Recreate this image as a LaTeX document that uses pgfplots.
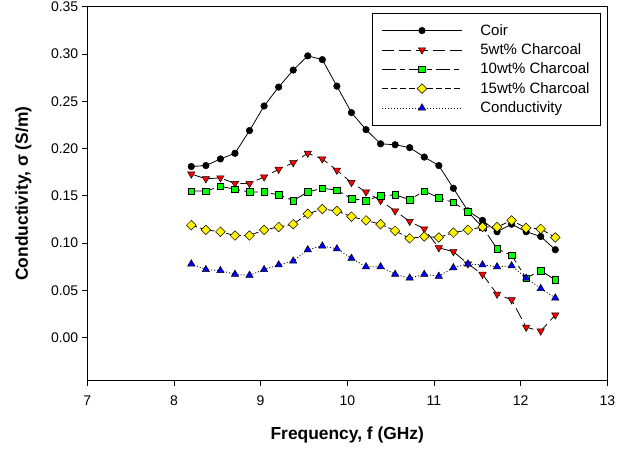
\documentclass[border=0pt]{standalone}
\usepackage{pgfplots}
\pgfplotsset{compat=1.18}
\usepackage{pgfplotstable}
\usepackage{fontspec}
\setmainfont{Liberation Sans}

\pgfplotstableread{
f      coir   c5     c10    c15    cond
8.200  0.181  0.173  0.155  0.119  0.078
8.368  0.182  0.168  0.155  0.114  0.072
8.536  0.189  0.169  0.160  0.112  0.071
8.704  0.195  0.163  0.157  0.108  0.067
8.872  0.219  0.163  0.154  0.108  0.066
9.040  0.245  0.170  0.154  0.114  0.072
9.208  0.265  0.178  0.151  0.117  0.077
9.376  0.283  0.185  0.145  0.120  0.081
9.544  0.298  0.195  0.154  0.131  0.093
9.712  0.294  0.189  0.158  0.136  0.097
9.880  0.266  0.177  0.156  0.134  0.094
10.048 0.238  0.164  0.147  0.128  0.084
10.216 0.220  0.154  0.145  0.124  0.075
10.384 0.205  0.145  0.150  0.120  0.075
10.552 0.204  0.134  0.151  0.113  0.067
10.720 0.201  0.123  0.146  0.105  0.063
10.888 0.191  0.115  0.155  0.107  0.067
11.056 0.182  0.095  0.148  0.106  0.065
11.224 0.158  0.091  0.143  0.111  0.074
11.392 0.134  0.078  0.133  0.114  0.078
11.560 0.124  0.067  0.117  0.117  0.077
11.728 0.112  0.046  0.094  0.117  0.075
11.896 0.120  0.040  0.087  0.124  0.076
12.064 0.112  0.011  0.063  0.116  0.063
12.232 0.107  0.007  0.071  0.115  0.052
12.400 0.093  0.024  0.061  0.106  0.042
}\datatable

\begin{document}
\begin{tikzpicture}
\useasboundingbox (-87.3bp,-69.3bp) rectangle (546.7bp,380.7bp);
\begin{axis}[
  scale only axis,
  width=520bp, height=374bp,
  xmin=7, xmax=13, ymin=-0.0455, ymax=0.35,
  xtick={7,8,9,10,11,12,13},
  ytick={0,0.05,0.10,0.15,0.20,0.25,0.30,0.35},
  xtick pos=bottom, ytick pos=left,
  tick align=outside,
  major tick length=5.5bp,
  axis line style={line width=0.8bp},
  every tick/.style={black, line width=0.8bp},
  ticklabel style={font=\fontsize{14bp}{16bp}\selectfont},
  /pgf/number format/assume math mode=true,
  yticklabel style={/pgf/number format/.cd, fixed, fixed zerofill, precision=2},
  xticklabel style={yshift=-6bp, /pgf/number format/.cd, fixed, precision=0},
  scaled y ticks=false,
  label style={font=\bfseries\fontsize{17.4bp}{20bp}\selectfont},
  xlabel={Frequency, f (GHz)},
  ylabel={Conductivity, σ (S/m)},
  xlabel style={at={(axis description cs:0.5,-0.1452)}, anchor=center},
  ylabel style={at={(axis description cs:-0.1231,0.5)}, anchor=center},
  legend image code/.code={
    \draw[mark repeat=2, mark phase=2, #1] plot coordinates {(0bp,0bp) (40bp,0bp) (80bp,0bp)};
  },
  legend style={
    at={(axis description cs:0.9879,0.9832)}, anchor=north east,
    draw=black, line width=0.8bp,
    font=\fontsize{15bp}{17bp}\selectfont,
    inner xsep=9bp, inner ysep=9bp,
    row sep=3bp, column sep=16bp,
    cells={anchor=west},
  },
  legend cell align=left,
  every axis plot/.append style={line width=0.8bp},
]
\addplot[black, solid, mark=*, mark size=3.3bp, mark options={solid, fill=black, draw=black, line width=0.5bp}] table[x=f, y=coir] {\datatable};
\addlegendentry{Coir}
\addplot[black, dash pattern=on 12bp off 5bp, mark=triangle*, mark size=4.2bp, mark options={solid, fill=red, draw=black, rotate=180, line width=0.5bp}] table[x=f, y=c5] {\datatable};
\addlegendentry{5wt\% Charcoal}
\addplot[black, dash pattern=on 14bp off 4bp on 5bp off 4bp, mark=square*, mark size=3.3bp, mark options={solid, fill=green, draw=black, line width=0.5bp}] table[x=f, y=c10] {\datatable};
\addlegendentry{10wt\% Charcoal}
\addplot[black, dash pattern=on 6bp off 3bp, mark=square*, mark size=3.4bp, mark options={solid, fill=yellow, draw=black, rotate=45, line width=0.5bp}] table[x=f, y=c15] {\datatable};
\addlegendentry{15wt\% Charcoal}
\addplot[black, dash pattern=on 1bp off 2bp, mark=triangle*, mark size=4.2bp, mark options={solid, fill=blue, draw=black, line width=0.5bp}] table[x=f, y=cond] {\datatable};
\addlegendentry{Conductivity}
\end{axis}
\end{tikzpicture}
\end{document}
